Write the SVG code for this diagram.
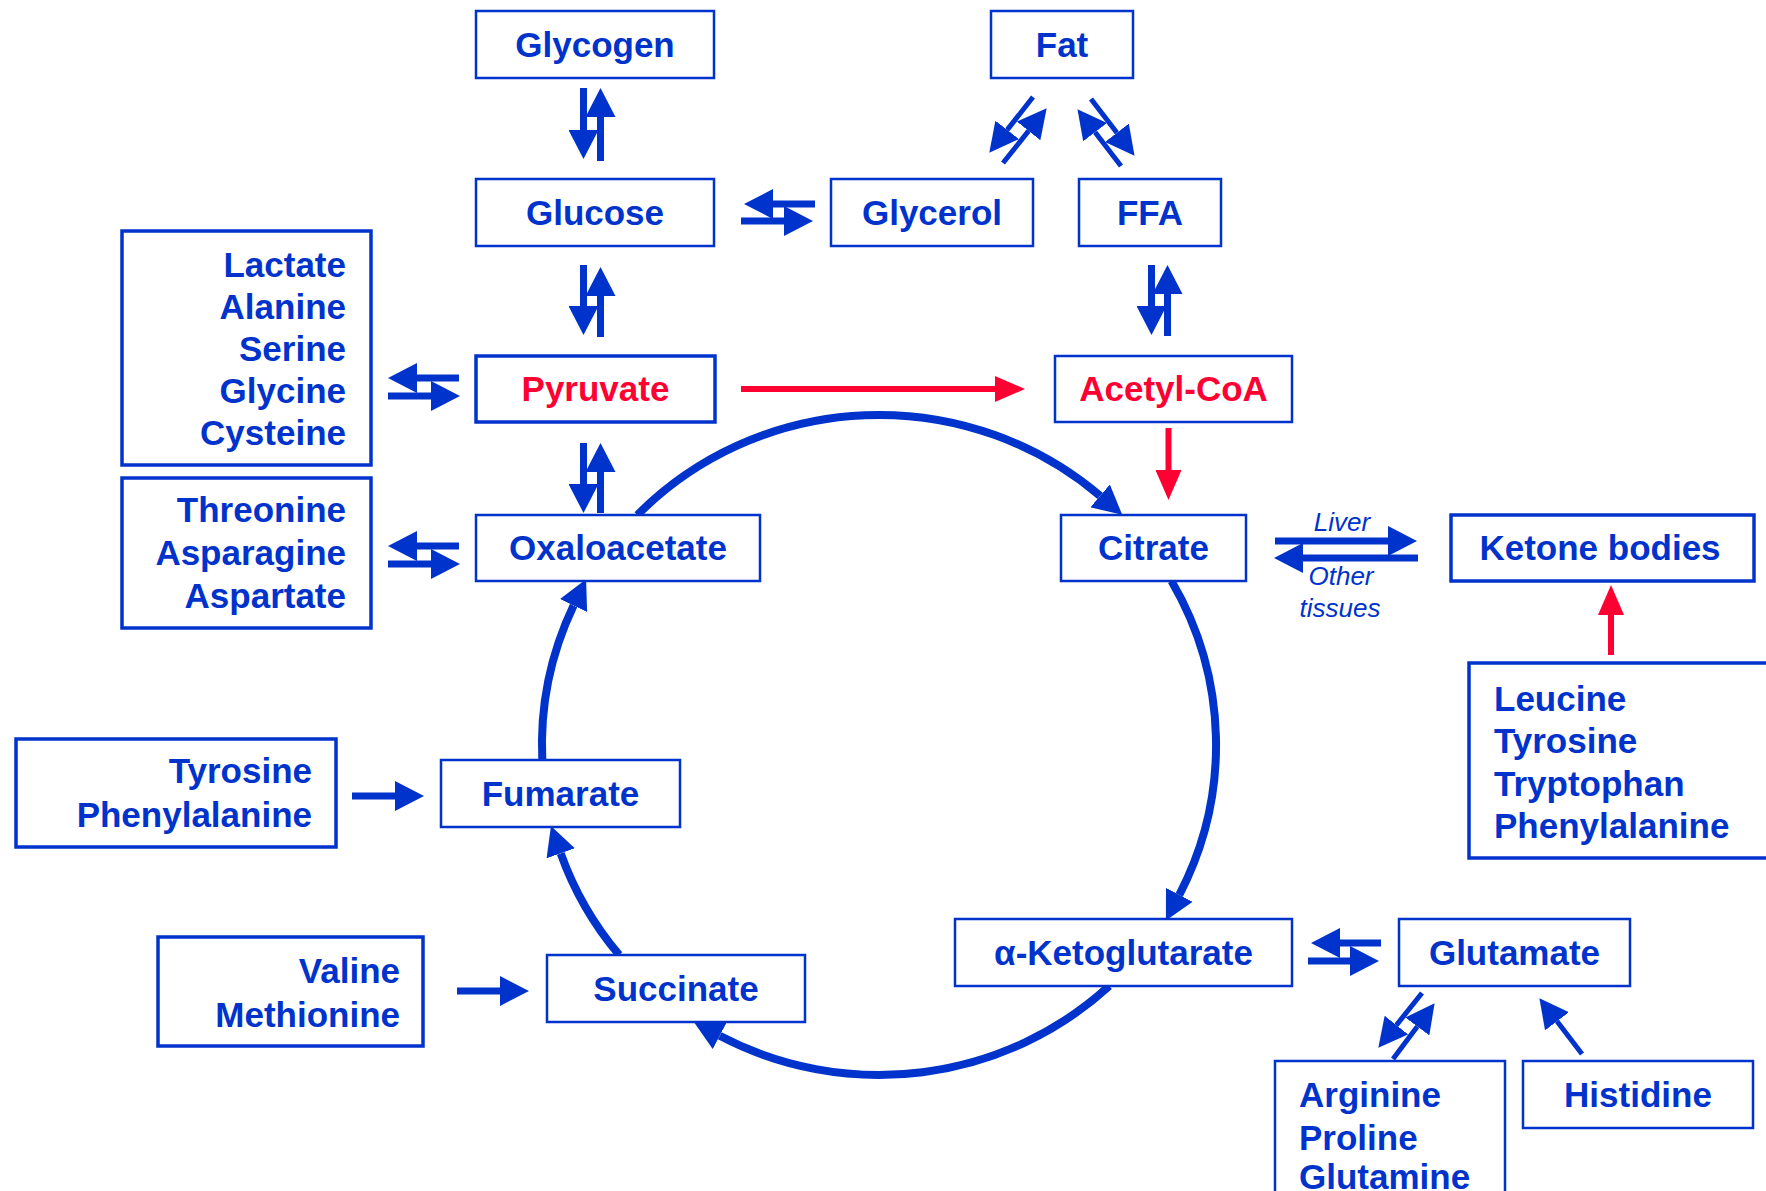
<svg xmlns="http://www.w3.org/2000/svg" width="1766" height="1191" viewBox="0 0 1766 1191">
<style>
.bx{fill:#fff;stroke:#0033cc;stroke-width:2.5}
.bk{fill:#fff;stroke:#0033cc;stroke-width:3.5}
.t{font-family:"Liberation Sans",Arial,sans-serif;font-weight:bold;font-size:35px;fill:#0033cc}
.tr{fill:#ff0033}
.m{text-anchor:middle}
.e{text-anchor:end}
.it{font-family:"Liberation Sans",Arial,sans-serif;font-style:italic;font-size:26px;fill:#0033cc;text-anchor:middle}
.sb{stroke:#0033cc;stroke-width:7;fill:none;marker-end:url(#ab)}
.sd{stroke:#0033cc;stroke-width:5;fill:none;marker-end:url(#ab)}
.sr{stroke:#ff0033;stroke-width:6;fill:none;marker-end:url(#ar)}
.cy{stroke:#0033cc;stroke-width:8;fill:none;marker-end:url(#ab)}
</style>
<defs>
<marker id="ab" viewBox="0 0 29 30" refX="0" refY="15" markerWidth="29" markerHeight="30" markerUnits="userSpaceOnUse" orient="auto"><path d="M0,0 L29,15 L0,30 Z" fill="#0033cc"/></marker>
<marker id="ar" viewBox="0 0 30 26" refX="0" refY="13" markerWidth="30" markerHeight="26" markerUnits="userSpaceOnUse" orient="auto"><path d="M0,0 L30,13 L0,26 Z" fill="#ff0033"/></marker>
</defs>
<rect width="1766" height="1191" fill="#fff"/>
<g id="connectors">
<path class="cy" d="M637.4,515 A337,330 0 0 1 1100.1,495.9"/>
<path class="cy" d="M1171.5,581 A337,330 0 0 1 1179.3,894.8"/>
<path class="cy" d="M1109.2,986 A337,330 0 0 1 719.7,1035.8"/>
<path class="cy" d="M619.2,954.9 A337,330 0 0 1 560.7,853.3"/>
<path class="cy" d="M542.3,760 A337,330 0 0 1 573.6,605.5"/>
<path class="sb" d="M583.5,88 V130"/>
<path class="sb" d="M600.5,161 V117"/>
<path class="sb" d="M583.5,265 V306"/>
<path class="sb" d="M600.5,337 V296"/>
<path class="sb" d="M583.5,443 V484"/>
<path class="sb" d="M600.5,513 V472"/>
<path class="sb" d="M1151.5,265 V306"/>
<path class="sb" d="M1167.5,336 V294"/>
<path class="sb" d="M815,204 H773"/>
<path class="sb" d="M741,221 H784"/>
<path class="sb" d="M459,378 H417"/>
<path class="sb" d="M388,396 H431"/>
<path class="sb" d="M459,546 H417"/>
<path class="sb" d="M388,564 H431"/>
<path class="sb" d="M1275,541 H1388"/>
<path class="sb" d="M1418,558 H1303"/>
<path class="sb" d="M1381,943 H1340"/>
<path class="sb" d="M1308,961 H1350"/>
<path class="sb" d="M352,796 H395"/>
<path class="sb" d="M457,991 H500"/>
<path class="sr" d="M741,389 H995"/>
<path class="sr" d="M1168.5,428 V470"/>
<path class="sr" d="M1611,655 V615"/>
<path class="sd" d="M1033,97 L1007.2,129.9"/>
<path class="sd" d="M1003,163 L1028.6,130.9"/>
<path class="sd" d="M1091,99 L1116.9,132.8"/>
<path class="sd" d="M1121,166 L1095.1,132.2"/>
<path class="sd" d="M1422,993 L1396.4,1025.1"/>
<path class="sd" d="M1393,1059 L1417.3,1026.4"/>
<path class="sd" d="M1582,1054 L1557,1021.3"/>
<text class="it" x="1342" y="531">Liver</text>
<text class="it" x="1341" y="585">Other</text>
<text class="it" x="1340" y="617">tissues</text>
</g>
<g id="glycogen"><rect class="bx" x="476" y="11" width="238" height="67"/><text class="t m" x="595" y="57">Glycogen</text></g>
<g id="fat"><rect class="bx" x="991" y="11" width="142" height="67"/><text class="t m" x="1062" y="57">Fat</text></g>
<g id="glucose"><rect class="bx" x="476" y="179" width="238" height="67"/><text class="t m" x="595" y="225">Glucose</text></g>
<g id="glycerol"><rect class="bx" x="831" y="179" width="202" height="67"/><text class="t m" x="932" y="225">Glycerol</text></g>
<g id="ffa"><rect class="bx" x="1079" y="179" width="142" height="67"/><text class="t m" x="1150" y="225">FFA</text></g>
<g id="lactate-group"><rect class="bk" x="122" y="231" width="249" height="234"/>
<text class="t e" x="346" y="277">Lactate</text>
<text class="t e" x="346" y="319">Alanine</text>
<text class="t e" x="346" y="361">Serine</text>
<text class="t e" x="346" y="403">Glycine</text>
<text class="t e" x="346" y="445">Cysteine</text></g>
<g id="pyruvate"><rect class="bk" x="476" y="356" width="239" height="66"/><text class="t tr m" x="595.5" y="401">Pyruvate</text></g>
<g id="acetylcoa"><rect class="bx" x="1055" y="356" width="237" height="66"/><text class="t tr m" x="1173.5" y="401">Acetyl-CoA</text></g>
<g id="threonine-group"><rect class="bk" x="122" y="478" width="249" height="150"/>
<text class="t e" x="346" y="522">Threonine</text>
<text class="t e" x="346" y="565">Asparagine</text>
<text class="t e" x="346" y="608">Aspartate</text></g>
<g id="oxaloacetate"><rect class="bx" x="476" y="515" width="284" height="66"/><text class="t m" x="618" y="560">Oxaloacetate</text></g>
<g id="citrate"><rect class="bx" x="1061" y="515" width="185" height="66"/><text class="t m" x="1153.5" y="560">Citrate</text></g>
<g id="ketone"><rect class="bk" x="1451" y="515" width="303" height="66"/><text class="t m" x="1600" y="560">Ketone bodies</text></g>
<g id="leucine-group"><rect class="bk" x="1469" y="663" width="320" height="195"/>
<text class="t" x="1494" y="711">Leucine</text>
<text class="t" x="1494" y="753">Tyrosine</text>
<text class="t" x="1494" y="796">Tryptophan</text>
<text class="t" x="1494" y="838">Phenylalanine</text></g>
<g id="tyrosine-group"><rect class="bk" x="16" y="739" width="320" height="108"/>
<text class="t e" x="312" y="783">Tyrosine</text>
<text class="t e" x="312" y="827">Phenylalanine</text></g>
<g id="fumarate"><rect class="bx" x="441" y="760" width="239" height="67"/><text class="t m" x="560.5" y="806">Fumarate</text></g>
<g id="valine-group"><rect class="bk" x="158" y="937" width="265" height="109"/>
<text class="t e" x="400" y="983">Valine</text>
<text class="t e" x="400" y="1027">Methionine</text></g>
<g id="succinate"><rect class="bx" x="547" y="955" width="258" height="67"/><text class="t m" x="676" y="1001">Succinate</text></g>
<g id="ketoglutarate"><rect class="bx" x="955" y="919" width="337" height="67"/><text class="t m" x="1123.5" y="965">α-Ketoglutarate</text></g>
<g id="glutamate"><rect class="bx" x="1399" y="919" width="231" height="67"/><text class="t m" x="1514.5" y="965">Glutamate</text></g>
<g id="arginine-group"><rect class="bx" x="1275" y="1061" width="230" height="160"/>
<text class="t" x="1299" y="1107">Arginine</text>
<text class="t" x="1299" y="1150">Proline</text>
<text class="t" x="1299" y="1189">Glutamine</text></g>
<g id="histidine"><rect class="bx" x="1523" y="1061" width="230" height="67"/><text class="t m" x="1638" y="1107">Histidine</text></g>
</svg>
